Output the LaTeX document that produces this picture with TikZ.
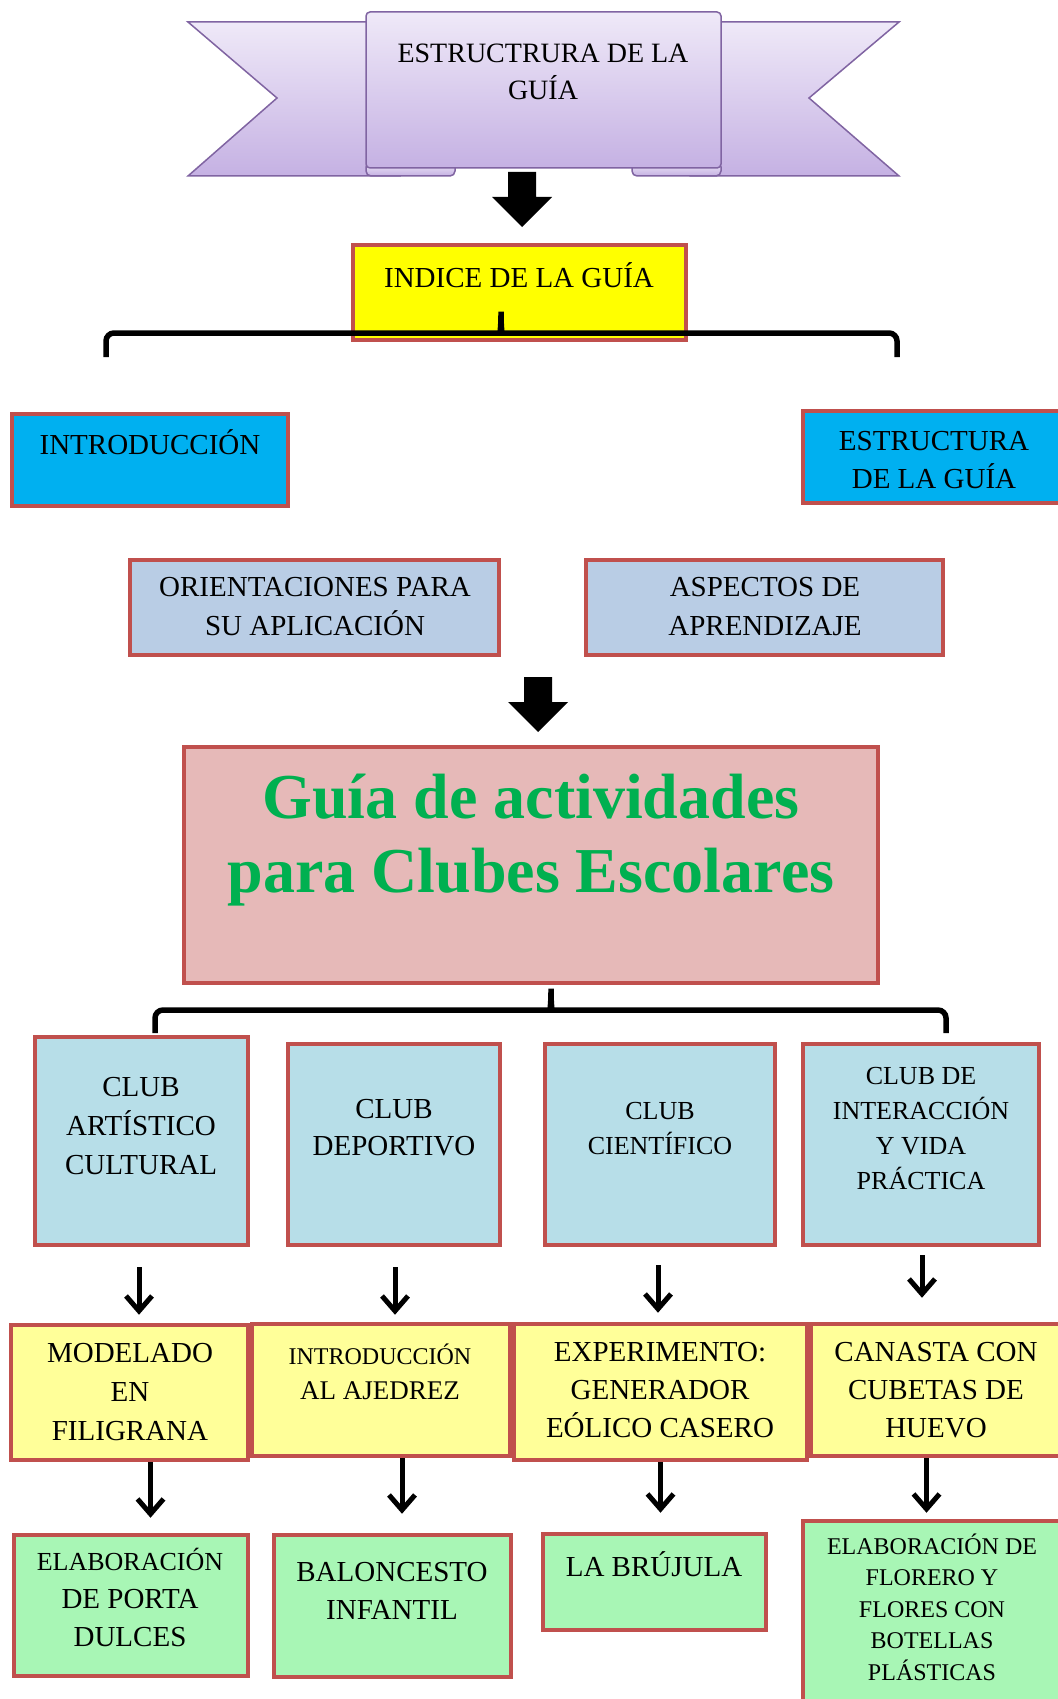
\documentclass[tikz,border=0pt]{standalone}
\usepackage{fontspec}
\setmainfont{Liberation Serif}
\usetikzlibrary{arrows.meta,calc,fit}

\definecolor{boxred}{HTML}{C0504D}
\definecolor{ribbonedge}{HTML}{8064A2}
\definecolor{ribbontop}{HTML}{EFE9F8}
\definecolor{ribbonbot}{HTML}{C5B1E3}
\definecolor{idxyellow}{HTML}{FFFF00}
\definecolor{introblue}{HTML}{00B0F0}
\definecolor{steelblue}{HTML}{B9CDE5}
\definecolor{titlepink}{HTML}{E6B9B8}
\definecolor{titlegreen}{HTML}{00B050}
\definecolor{clubblue}{HTML}{B7DEE8}
\definecolor{paleyellow}{HTML}{FFFF99}
\definecolor{palegreen}{HTML}{A8F6B5}

\tikzset{
    box/.style={draw=boxred, line width=4.5pt, inner sep=0pt},
    txt/.style={align=center, inner sep=0pt, font=\fontsize{29}{39}\selectfont},
    smalltxt/.style={align=center, inner sep=0pt, font=\fontsize{26}{35}\selectfont},
    ribbon/.style={draw=ribbonedge, line width=1.5pt, top color=ribbontop, bottom color=ribbonbot},
    link/.style={line width=5pt, -{Straight Barb[length=15pt,width=26pt]}},
    brace/.style={line width=5.5pt, rounded corners=8pt},
    bigarrow/.pic={
        \fill[black] (-14,0) -- (14,0) -- (14,25) -- (30,25) -- (0,55) -- (-30,25) -- (-14,25) -- cycle;
    }
}

\begin{document}
\begin{tikzpicture}[x=1pt, y=-1pt]
    \useasboundingbox (0,0) rectangle (1057,1699);

    % Banner
    \draw[ribbon] (188,22) -- (400,22) -- (400,176) -- (188,176) -- (277,98) -- cycle;
    \draw[ribbon] (899,22) -- (690,22) -- (690,176) -- (899,176) -- (809,98) -- cycle;
    \draw[ribbon, rounded corners=5pt] (366,162) rectangle (455,176);
    \draw[ribbon, rounded corners=5pt] (632,162) rectangle (721,176);
    \draw[ribbon, rounded corners=4pt] (366,12) rectangle (721,168);
    \node[txt, font=\fontsize{28}{37}\selectfont] (bannerT) at (543,72) {ESTRUCTRURA DE LA\\GUÍA};

    \pic at (522,172) {bigarrow};

    % Index and its parts
    \node[box, fill=idxyellow, fit={(353,245) (686,340)}] (indice) {};
    \node[txt] (indiceT) at (519,275) {INDICE DE LA GUÍA};

    \coordinate (b1l) at (106,357);
    \coordinate (b1r) at (897,357);
    \coordinate (cusp1) at (501,307);
    \draw[brace] (b1l) |- ($(cusp1)+(-9,26)$) .. controls ($(cusp1)+(-1,26)$) and ($(cusp1)+(0,18)$) .. (cusp1)
        .. controls ($(cusp1)+(0,18)$) and ($(cusp1)+(1,26)$) .. ($(cusp1)+(9,26)$) -| (b1r);

    \node[box, fill=introblue, fit={(12,414) (288,506)}] (intro) {};
    \node[txt] (introT) at (150,442) {INTRODUCCIÓN};
    \node[box, fill=introblue, fit={(803,411) (1070,503)}] (estr) {};
    \node[txt, font=\fontsize{29}{38}\selectfont] (estrT) at (934,460) {ESTRUCTURA\\DE LA GUÍA};

    \node[box, fill=steelblue, fit={(130,560) (499,655)}] (orient) {};
    \node[txt] (orientT) at (315,607) {ORIENTACIONES PARA\\SU APLICACIÓN};
    \node[box, fill=steelblue, fit={(586,560) (943,655)}] (aspect) {};
    \node[txt] (aspectT) at (765,607) {ASPECTOS DE\\APRENDIZAJE};

    \pic at (538,677) {bigarrow};

    % Main title
    \node[box, fill=titlepink, fit={(184,747) (878,983)}] (guia) {};
    \node[align=center, inner sep=0pt, text=titlegreen, font=\bfseries\fontsize{64}{74}\selectfont] (guiaT) at (531,840)
        {Guía de actividades\\para Clubes Escolares};

    % Clubs
    \node[box, fill=clubblue, fit={(35,1037) (248,1245)}] (clubA) {};
    \node[txt] (clubAT) at (141,1126) {CLUB\\ARTÍSTICO\\CULTURAL};
    \node[box, fill=clubblue, fit={(288,1044) (500,1245)}] (clubB) {};
    \node[txt, font=\fontsize{29}{37}\selectfont] (clubBT) at (394,1128) {CLUB\\DEPORTIVO};
    \node[box, fill=clubblue, fit={(545,1044) (775,1245)}] (clubC) {};
    \node[smalltxt] (clubCT) at (660,1129) {CLUB\\CIENTÍFICO};
    \node[box, fill=clubblue, fit={(803,1044) (1039,1245)}] (clubD) {};
    \node[smalltxt] (clubDT) at (921,1129) {CLUB DE\\INTERACCIÓN\\Y VIDA\\PRÁCTICA};

    \coordinate (b2l) at (155,1033);
    \coordinate (b2r) at (946,1033);
    \coordinate (cusp2) at (551,984);
    \draw[brace] (b2l) |- ($(cusp2)+(-9,26)$) .. controls ($(cusp2)+(-1,26)$) and ($(cusp2)+(0,18)$) .. (cusp2)
        .. controls ($(cusp2)+(0,18)$) and ($(cusp2)+(1,26)$) .. ($(cusp2)+(9,26)$) -| (b2r);

    % Activities
    \node[box, fill=paleyellow, fit={(11,1325) (248,1460)}] (modelado) {};
    \node[txt] (modeladoT) at (130,1392) {MODELADO\\EN\\FILIGRANA};
    \node[box, fill=paleyellow, fit={(252,1324) (510,1456)}] (ajedrez) {};
    \node[align=center, inner sep=0pt, font=\fontsize{27}{35}\selectfont] (ajedrezT) at (380,1372)
        {{\fontsize{24}{35}\selectfont INTRODUCCIÓN}\\AL AJEDREZ};
    \node[box, fill=paleyellow, fit={(514,1324) (807,1460)}] (eolico) {};
    \node[txt, font=\fontsize{29}{38}\selectfont] (eolicoT) at (660,1390) {EXPERIMENTO:\\GENERADOR\\EÓLICO CASERO};
    \node[box, fill=paleyellow, fit={(811,1324) (1070,1456)}] (canasta) {};
    \node[txt, font=\fontsize{29}{38}\selectfont] (canastaT) at (936,1390) {CANASTA CON\\CUBETAS DE\\HUEVO};

    \draw[link, shorten <=20pt, shorten >=8pt] ([xshift=-2.5pt]clubA.south) -- ([xshift=-2.5pt]clubA.south |- modelado.north);
    \draw[link, shorten <=20pt, shorten >=7pt] ([xshift=1pt]clubB.south) -- ([xshift=1pt]clubB.south |- ajedrez.north);
    \draw[link, shorten <=18pt, shorten >=9pt] ([xshift=-2pt]clubC.south) -- ([xshift=-2pt]clubC.south |- eolico.north);
    \draw[link, shorten <=8pt, shorten >=24pt] ([xshift=1pt]clubD.south) -- ([xshift=1pt]clubD.south |- canasta.north);

    % Products
    \node[box, fill=palegreen, fit={(14,1535) (248,1676)}] (porta) {};
    \node[txt, font=\fontsize{29}{38}\selectfont] (portaT) at (130,1597)
        {{\fontsize{26}{38}\selectfont ELABORACIÓN}\\DE PORTA\\DULCES};
    \node[box, fill=palegreen, fit={(274,1535) (511,1677)}] (balon) {};
    \node[txt, font=\fontsize{29}{38}\selectfont] (balonT) at (392,1591) {BALONCESTO\\INFANTIL};
    \node[box, fill=palegreen, fit={(543,1534) (766,1630)}] (brujula) {};
    \node[txt] (brujulaT) at (654,1564) {LA BRÚJULA};
    \node[box, fill=palegreen, fit={(803,1521) (1070,1712)}] (florero) {};
    \node[align=center, inner sep=0pt, font=\fontsize{24}{31.5}\selectfont] (floreroT) at (932,1607)
        {ELABORACIÓN DE\\FLORERO Y\\FLORES CON\\BOTELLAS\\PLÁSTICAS};

    \draw[link, shorten >=15pt] ([xshift=21pt]modelado.south) -- ([xshift=21pt]modelado.south |- porta.north);
    \draw[link, shorten >=19pt] ([xshift=21pt]ajedrez.south) -- ([xshift=21pt]ajedrez.south |- balon.north);
    \draw[link, shorten >=19pt] (eolico.south) -- (eolico.south |- brujula.north);
    \draw[link, shorten >=6pt] ([xshift=-14pt]canasta.south) -- ([xshift=-14pt]canasta.south |- florero.north);
\end{tikzpicture}
\end{document}
